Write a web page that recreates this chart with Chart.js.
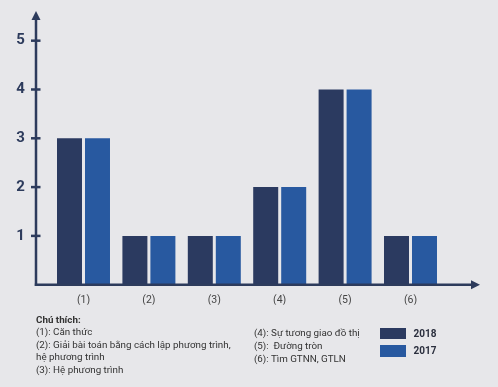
<!DOCTYPE html>
<html>
<head>
<meta charset="utf-8">
<script src="https://cdn.jsdelivr.net/npm/chart.js@4/dist/chart.umd.min.js"></script>
<style>
  html, body { margin: 0; padding: 0; background: #e7e7ea; }
  #wrap { position: relative; width: 498px; height: 387px; overflow: hidden; font-family: Roboto, "Noto Sans", sans-serif; }
  canvas { position: absolute; left: 0; top: 0; }
  .t { position: absolute; font-size: 9.8px; color: #333; white-space: nowrap; line-height: 13px; }
  .b { font-weight: bold; }
  .box { position: absolute; width: 26px; height: 11.6px; }
  .lg { position: absolute; font-size: 10px; font-weight: bold; color: #2b2f3e; line-height: 12px; }
</style>
</head>
<body>
<div id="wrap">
  <canvas id="c" width="498" height="387"></canvas>
  <div class="t b" style="left:36px;top:312.5px;">Chú thích:</div>
  <div class="t" style="left:36px;top:325px;">(1): Căn thức</div>
  <div class="t" style="left:36px;top:337.8px;">(2): Giải bài toán bằng cách lập phương trình,</div>
  <div class="t" style="left:36px;top:350.4px;">hệ phương trình</div>
  <div class="t" style="left:36px;top:363px;">(3): Hệ phương trình</div>
  <div class="t" style="left:254px;top:325.5px;">(4): Sự tương giao đồ thị</div>
  <div class="t" style="left:254px;top:338.8px;">(5):&nbsp; Đường tròn</div>
  <div class="t" style="left:254px;top:352px;">(6): Tìm GTNN, GTLN</div>
  <div id="legend"></div>
</div>
<script>
const categories = ['(1)', '(2)', '(3)', '(4)', '(5)', '(6)'];
const seriesNames = ['2018', '2017'];
const values2018 = [3, 1, 1, 2, 4, 1];
const values2017 = [3, 1, 1, 2, 4, 1];
const yTicks = [1, 2, 3, 4, 5];

const colors = ['#2b3a60', '#2859a0'];
const axisColor = '#2d3b5c';

// HTML legend built from dataset names
const lg = document.getElementById('legend');
seriesNames.forEach((n, i) => {
  const top = 327.7 + i * 17.3;
  const b = document.createElement('div');
  b.className = 'box'; b.style.left = '380px'; b.style.top = top + 'px'; b.style.background = colors[i];
  lg.appendChild(b);
  const t = document.createElement('div');
  t.className = 'lg'; t.style.left = '413.5px'; t.style.top = (top - 0.2) + 'px'; t.textContent = n;
  lg.appendChild(t);
});

const axesPlugin = {
  id: 'axesArrows',
  afterDatasetsDraw(chart) {
    const { ctx, chartArea, scales } = chart;
    const ys = scales.y;
    const x0 = 36, yb = chartArea.bottom;
    ctx.save();
    ctx.strokeStyle = axisColor; ctx.fillStyle = axisColor;
    ctx.lineWidth = 2.5;
    // y axis
    ctx.beginPath(); ctx.moveTo(x0, yb + 1.2); ctx.lineTo(x0, 18); ctx.stroke();
    ctx.beginPath(); ctx.moveTo(x0, 11); ctx.lineTo(x0 - 4.5, 20); ctx.lineTo(x0 + 4.5, 20); ctx.closePath(); ctx.fill();
    // x axis
    ctx.beginPath(); ctx.moveTo(x0 - 1.2, yb); ctx.lineTo(473, yb); ctx.stroke();
    ctx.beginPath(); ctx.moveTo(480, yb); ctx.lineTo(471, yb - 4.5); ctx.lineTo(471, yb + 4.5); ctx.closePath(); ctx.fill();
    // tick marks
    yTicks.forEach(v => {
      const p = ys.getPixelForValue(v);
      ctx.beginPath(); ctx.moveTo(31, p); ctx.lineTo(40.5, p); ctx.stroke();
    });
    ctx.restore();
  }
};

new Chart(document.getElementById('c'), {
  type: 'bar',
  data: {
    labels: categories,
    datasets: [
      { label: seriesNames[0], data: values2018, backgroundColor: colors[0] },
      { label: seriesNames[1], data: values2017, backgroundColor: colors[1] }
    ]
  },
  options: {
    responsive: false,
    animation: false,
    devicePixelRatio: 1,
    categoryPercentage: 0.856,
    barPercentage: 0.893,
    layout: { padding: { left: 0, right: 54.8, top: 11.4, bottom: 82.3 } },
    plugins: { legend: { display: false }, tooltip: { enabled: false } },
    scales: {
      x: {
        grid: { display: false, drawTicks: false },
        border: { display: false },
        ticks: { color: '#444', font: { family: 'Roboto', size: 10.5 }, padding: 9 },
        afterFit: s => { s.height = 20; s.paddingLeft = 0; s.paddingRight = 0; }
      },
      y: {
        min: 0, max: 5.6,
        grid: { display: false, drawTicks: false },
        border: { display: false },
        afterBuildTicks: s => { s.ticks = yTicks.map(v => ({ value: v })); },
        ticks: { color: axisColor, font: { family: 'Roboto', size: 15, weight: 'bold' }, padding: 26 },
        afterFit: s => { s.width = 50.8; s.paddingTop = 0; s.paddingBottom = 0; }
      }
    }
  },
  plugins: [axesPlugin]
});
</script>
</body>
</html>
